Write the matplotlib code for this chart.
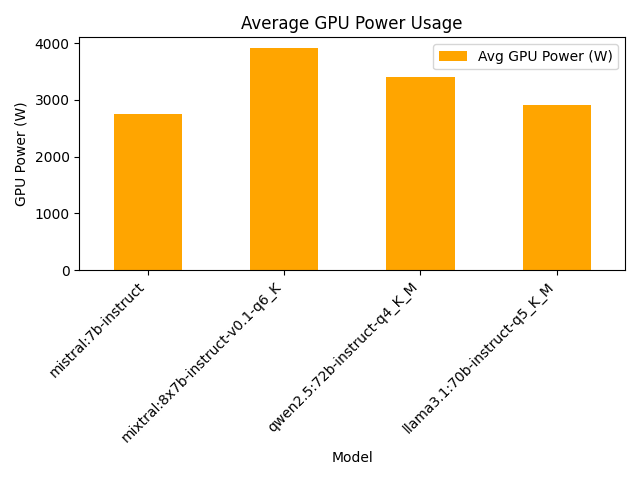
import matplotlib
matplotlib.use("Agg")
import matplotlib.pyplot as plt
import pandas as pd

models = ["mistral:7b-instruct", "mixtral:8x7b-instruct-v0.1-q6_K",
          "qwen2.5:72b-instruct-q4_K_M", "llama3.1:70b-instruct-q5_K_M"]
avg_power = [2750, 3905, 3400, 2905]

df = pd.DataFrame({"Avg GPU Power (W)": avg_power}, index=models)
df.index.name = "Model"

fig, ax = plt.subplots(figsize=(6.4, 4.8), dpi=100)
df.plot(kind="bar", color="orange", ax=ax)
ax.set_title("Average GPU Power Usage")
ax.set_ylabel("GPU Power (W)")
plt.xticks(rotation=45, ha="right")
plt.tight_layout()
fig.savefig("out.png")
